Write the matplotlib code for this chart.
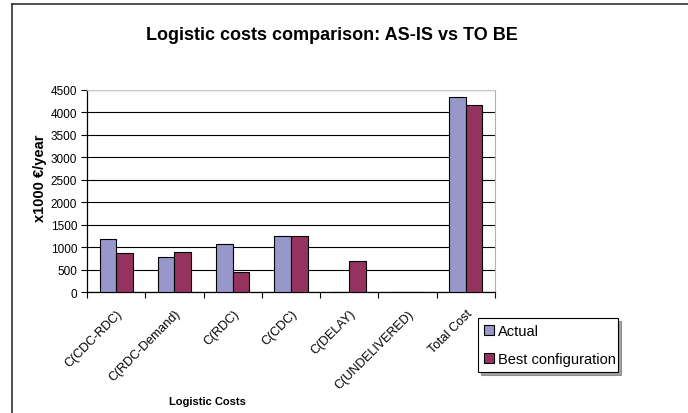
import matplotlib
matplotlib.use("Agg")
import matplotlib.pyplot as plt
import numpy as np
from matplotlib.lines import Line2D

categories = ["C(CDC-RDC)", "C(RDC-Demand)", "C(RDC)", "C(CDC)", "C(DELAY)",
              "C(UNDELIVERED)", "Total Cost"]
actual = [1190, 780, 1070, 1250, 0, 0, 4340]
best = [860, 880, 440, 1250, 690, 0, 4170]
series_names = ["Actual", "Best configuration"]
yticks = [0, 500, 1000, 1500, 2000, 2500, 3000, 3500, 4000, 4500]

plt.rcParams['font.family'] = ['Liberation Sans', 'DejaVu Sans']

fig = plt.figure(figsize=(6.88, 4.14), dpi=100)
# outer frame (top and left)
fig.add_artist(Line2D([12/688, 1.0], [1-5/414, 1-5/414], color='#333333', lw=1.2))
fig.add_artist(Line2D([12/688, 12/688], [0, 1-5/414], color='#333333', lw=1.2))

ax = fig.add_axes([87/688, 1-293/414, (495-87)/688, (293-91)/414])
x = np.arange(len(categories))
w = 0.285
ax.bar(x - w/2, actual, w, color='#9797CA', edgecolor='black', linewidth=0.8,
       label=series_names[0], zorder=3)
ax.bar(x + w/2, best, w, color='#943360', edgecolor='black', linewidth=0.8,
       label=series_names[1], zorder=3)

ax.set_xlim(-0.5, len(categories) - 0.5)
ax.set_ylim(0, 4500)
ax.set_yticks(yticks)
ax.set_yticklabels([str(v) for v in yticks], fontsize=8.5)
ax.yaxis.grid(True, color='black', linewidth=0.8, zorder=0)
ax.set_axisbelow(True)

ax.set_xticks(x)
ax.set_xticklabels(categories, rotation=45, ha='right', va='top',
                   rotation_mode='anchor', fontsize=9)
ax.tick_params(axis='x', which='major', length=0, pad=11)
ax.set_xticks(np.arange(-0.5, len(categories)), minor=True)
ax.tick_params(axis='x', which='minor', length=4, width=0.8, direction='out')
ax.tick_params(axis='y', length=4, width=0.8, direction='out', pad=3)

for s in ['left', 'bottom']:
    ax.spines[s].set_color('black')
    ax.spines[s].set_linewidth(0.9)
ax.spines['right'].set_color('#b0b0b0')
ax.spines['top'].set_color('#c8c8c8')

fig.text(332/688, 1-36/414, "Logistic costs comparison: AS-IS vs TO BE",
         ha='center', va='center', fontsize=13, fontweight='bold')
fig.text(40/688, 1-178/414, "x1000 €/year", rotation=90, ha='center', va='center',
         fontsize=10.5, fontweight='bold')
fig.text(207/688, 1-402/414, "Logistic Costs", ha='center', va='center',
         fontsize=8, fontweight='bold')

leg = ax.legend(loc='upper left', bbox_to_anchor=(478/688, 1-375/414, 140/688, 56/414),
                bbox_transform=fig.transFigure, mode='expand',
                frameon=True, fancybox=False, shadow=True, fontsize=10.5,
                handlelength=0.7, handleheight=0.7, handletextpad=0.3,
                borderpad=0.4, labelspacing=1.0, borderaxespad=0)
leg.get_frame().set_edgecolor('black')
leg.get_frame().set_linewidth(0.8)

fig.savefig("out.png", dpi=100)
